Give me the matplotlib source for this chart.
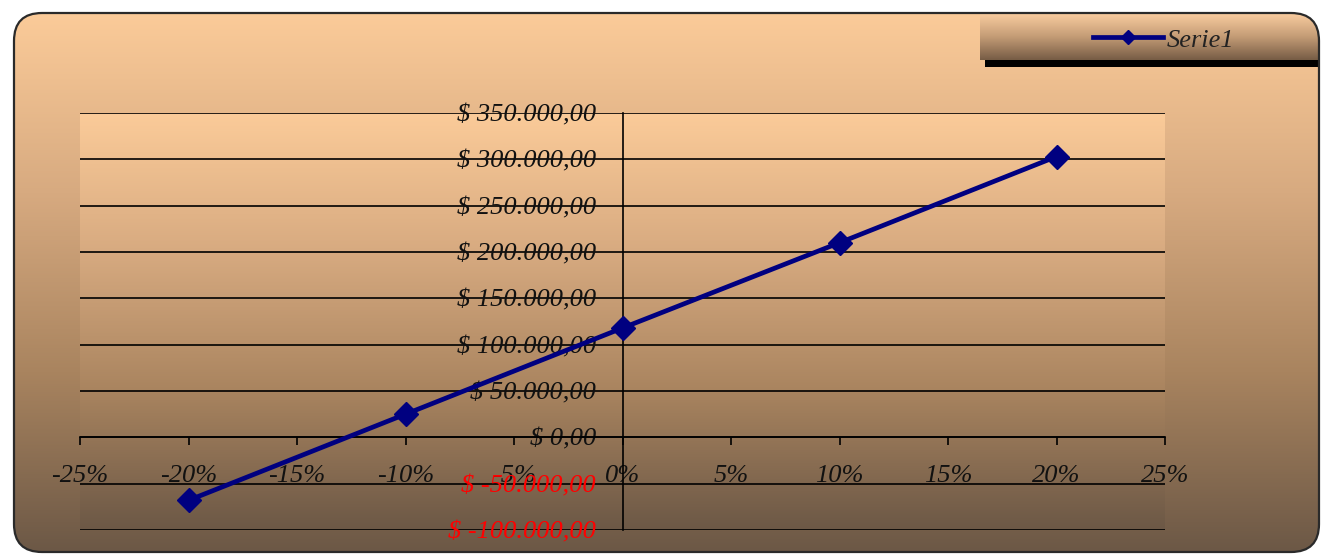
import numpy as np
import matplotlib
matplotlib.use("Agg")
import matplotlib.pyplot as plt
from matplotlib.colors import LinearSegmentedColormap
from matplotlib.patches import FancyBboxPatch, Rectangle

# datos
variacion = [-20, -10, 0, 10, 20]
valores = [-68000, 25000, 118000, 210000, 303000]
nombre_serie = "Serie1"

x_ticks = [-25, -20, -15, -10, -5, 0, 5, 10, 15, 20, 25]
y_ticks = [-100000, -50000, 0, 50000, 100000, 150000, 200000, 250000, 300000, 350000]

FUENTE = "Liberation Serif"
W, H = 1322, 555

degradado = LinearSegmentedColormap.from_list(
    "excel_bronce", ["#FBCB99", "#D7AA80", "#A9845F", "#6C5846"]
)
grad = np.linspace(0, 1, 256).reshape(-1, 1)


def moneda(v):
    s = f"{abs(v):,.2f}".replace(",", "X").replace(".", ",").replace("X", ".")
    return f"$ -{s}" if v < 0 else f"$ {s}"


fig = plt.figure(figsize=(W / 100, H / 100), dpi=100)
fig.patch.set_facecolor("white")

# ============================================================
# Fondo del área del gráfico (rectángulo redondeado)
# ============================================================
bg = fig.add_axes([0, 0, 1, 1])
bg.set_xlim(0, W)
bg.set_ylim(H, 0)
bg.axis("off")

marco = FancyBboxPatch(
    (14, 13), 1305, 539,
    boxstyle="round,pad=0,rounding_size=28",
    facecolor="none", edgecolor="#2a2a2a", lw=1.6, zorder=3
)
bg.add_patch(marco)
img = bg.imshow(grad, cmap=degradado, extent=(14, 1319, 552, 13),
                aspect="auto", origin="upper", zorder=1)
img.set_clip_path(marco)

# caja de la leyenda con sombra
sombra = Rectangle((985, 60), 340, 7, facecolor="black", edgecolor="none", zorder=2)
bg.add_patch(sombra)
sombra.set_clip_path(marco)
caja = bg.imshow(grad, cmap=LinearSegmentedColormap.from_list(
    "leyenda", ["#FACDA0", "#C49C76", "#765C45"]),
    extent=(980, 1319, 60, 13), aspect="auto", origin="upper", zorder=2)
caja.set_clip_path(marco)
bg.set_xlim(0, W)
bg.set_ylim(H, 0)

# ============================================================
# Área de trazado
# ============================================================
ax = fig.add_axes([80 / W, 25 / H, 1085 / W, 417 / H])
ax.patch.set_alpha(0)
ax.imshow(grad, cmap=degradado, extent=(0, 1, 0, 1), transform=ax.transAxes,
          aspect="auto", origin="upper", zorder=0)

ax.plot(variacion, valores, color="#000080", lw=3.4, marker="D", ms=12,
        label=nombre_serie, zorder=5, clip_on=False)

ax.set_xlim(-25, 25)
ax.set_ylim(-100000, 350000)
ax.set_aspect("auto")

# los ejes cruzan en el origen (antes de formatear las etiquetas)
ax.spines["top"].set_visible(False)
ax.spines["right"].set_visible(False)
ax.spines["left"].set_position(("data", 0))
ax.spines["bottom"].set_position(("data", 0))
for s in ("left", "bottom"):
    ax.spines[s].set_color("black")
    ax.spines[s].set_linewidth(1.2)
    ax.spines[s].set_zorder(3)

ax.tick_params(axis="x", direction="out", length=6, width=1.2, pad=14)
ax.tick_params(axis="y", length=0, pad=19)

estilo = {"fontfamily": FUENTE, "fontstyle": "italic", "fontsize": 19, "color": "#111111"}
ax.set_xticks(x_ticks)
ax.set_xticklabels([f"{v}%" for v in x_ticks], **estilo)
ax.set_yticks(y_ticks)
ax.set_yticklabels([moneda(v) for v in y_ticks], **estilo)
for v, lab in zip(y_ticks, ax.get_yticklabels()):
    if v < 0:
        lab.set_color("#FF0000")

ax.yaxis.grid(True, color="black", lw=1.2, zorder=2)
ax.set_axisbelow(False)

leg = ax.legend(
    loc="center left", bbox_to_anchor=(1080 / W, 1 - 40 / H),
    bbox_transform=fig.transFigure, frameon=False, borderpad=0,
    handlelength=2.65, handletextpad=0.15,
    prop={"family": FUENTE, "style": "italic", "size": 19}
)
leg.legend_handles[0].set_markersize(7)
for t in leg.get_texts():
    t.set_color("#222222")

fig.savefig("out.png", dpi=100)
